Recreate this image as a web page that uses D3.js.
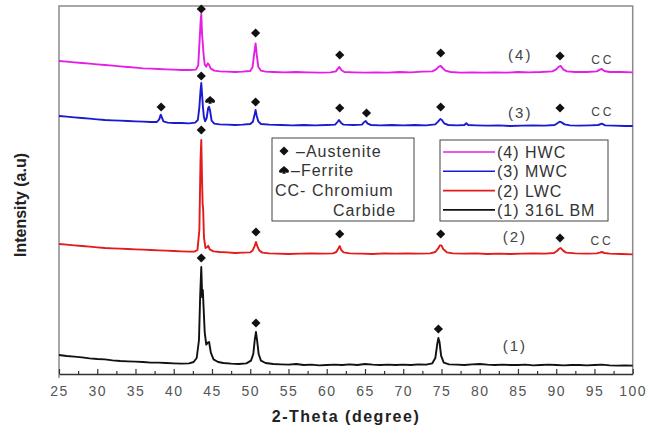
<!DOCTYPE html>
<html lang="en">
<head>
    <meta charset="UTF-8">
    <title>XRD patterns with D3.js</title>
    <script src="https://d3js.org/d3.v7.min.js"></script>
    <style>
        body {
            margin: 0;
            background: #ffffff;
            font-family: 'Liberation Sans', Arial, sans-serif;
        }
        .tick-label {
            font-size: 14px;
            fill: #555;
            letter-spacing: 1.5px;
        }
        .axis-title {
            font-weight: bold;
            fill: #222;
        }
        .note {
            fill: #444;
        }
        .legend-text {
            font-size: 16px;
            fill: #333;
            letter-spacing: 1px;
        }
    </style>
</head>
<body>
    <div id="chart"></div>

    <script>
        // 2-theta / intensity (a.u.) points (already stacked)
        const bm316L = [[25,57],[26,54],[27,52],[28,50],[29,47],[30,45],[31,44],[32,41],[33,39],[34,38],[35,37],[36,36],[37,34],[38,34],[39,33],[40,32],[41,31],[42,32],[42.6,36],[43.0,48],[43.3,102],[43.45,230],[43.6,321],[43.72,230],[43.8,252],[43.9,200],[44.05,125],[44.25,88],[44.45,94],[44.62,96],[44.85,64],[45.2,44],[45.8,36],[46.5,33],[47.5,31],[48.5,30],[49.5,32],[50.1,40],[50.4,60],[50.6,104],[50.75,126],[50.9,100],[51.1,60],[51.4,40],[52,33],[53,30],[54,29],[55,28],[56,30],[57,27],[58,28],[59,26],[60,27],[61,28],[62,27],[63,29],[64,27],[65,30],[66,28],[67,27],[68,28],[69,27],[70,28],[71,27],[72,29],[73,28],[73.8,32],[74.2,48],[74.45,90],[74.6,108],[74.75,95],[74.95,55],[75.3,34],[76,29],[77,28],[78,27],[79,29],[80,30],[81,28],[82,27],[83,28],[84,27],[85,27],[86,28],[87,26],[88,27],[89,28],[90,27],[91,26],[92,27],[93,27],[94,26],[95,27],[96,28],[97,26],[98,25],[99,26],[100,25]];
        const lwc = [[25,390],[26,388],[27,386],[28,384],[29,382],[30,380],[31,378],[32,377],[33,376],[34,375],[35,374],[36,373],[37,372],[38,371],[39,370],[40,369],[41,368],[42,367],[42.7,367],[43.1,372],[43.35,432],[43.5,642],[43.6,702],[43.7,580],[43.78,510],[43.85,492],[43.95,410],[44.15,378],[44.35,380],[44.5,385],[44.7,374],[45.2,368],[46,366],[47,365],[48,363],[49,364],[50,365],[50.3,370],[50.55,382],[50.75,396],[50.95,382],[51.2,370],[51.6,364],[52.5,362],[53.5,361],[55,360],[56.5,361],[58,362],[59.5,361],[60.8,362],[61.25,366],[61.5,376],[61.7,384],[61.9,372],[62.2,365],[63,362],[64.5,361],[66,360],[67.5,362],[69,361],[70.5,362],[72,361],[73.5,362],[74.2,366],[74.55,376],[74.8,386],[75,386],[75.25,374],[75.7,365],[76.5,362],[78,361],[79.5,362],[81,360],[82.5,361],[84,360],[85.5,361],[87,362],[88.5,361],[89.7,363],[90.1,369],[90.4,376],[90.6,378],[90.9,370],[91.3,364],[92.5,362],[94,361],[95.3,362],[95.7,364],[95.95,366],[96.3,363],[97,361],[98.5,360],[100,359]];
        const mwc = [[25,774],[26,772],[27,770],[28,768],[29,766],[30,764],[31,762],[32,761],[33,760],[34,759],[35,758],[36,757],[37,756],[37.8,756],[38.1,764],[38.3,778],[38.45,770],[38.65,758],[39.2,754],[40,753],[41,753],[42,752],[42.8,754],[43.15,762],[43.35,800],[43.5,850],[43.6,873],[43.7,840],[43.82,800],[43.95,770],[44.1,758],[44.3,768],[44.5,798],[44.62,802],[44.75,790],[44.95,760],[45.3,751],[46,749],[47,748],[48,747],[49,748],[50,750],[50.35,757],[50.55,776],[50.7,792],[50.85,774],[51.05,758],[51.4,750],[52.5,748],[54,747],[55.5,746],[57,747],[58.5,746],[60,747],[61.1,748],[61.4,756],[61.6,762],[61.85,754],[62.2,748],[63.5,747],[64.6,748],[64.9,756],[65.1,759],[65.35,751],[65.8,747],[67,746],[68.5,747],[70,746],[71.5,747],[73,746],[74.2,749],[74.55,757],[74.85,765],[75.05,762],[75.35,752],[75.9,747],[77,746],[78,747],[78.25,752],[78.5,747],[79.5,746],[81,745],[82.5,746],[84,744],[85.5,745],[87,746],[88.5,745],[89.8,747],[90.2,753],[90.45,757],[90.7,755],[91.1,749],[91.8,746],[93,745],[94.5,746],[95.5,747],[95.95,751],[96.4,746],[97.5,745],[99,744],[100,744]];
        const hwc = [[25,939],[26,937],[27,935],[28,933],[29,931],[30,929],[31,927],[32,925],[33,923],[34,921],[35,919],[36,917],[37,916],[38,915],[39,914],[40,913],[41,912],[42,912],[42.9,913],[43.2,926],[43.38,1000],[43.52,1060],[43.6,1080],[43.7,1020],[43.8,990],[43.9,960],[44.05,928],[44.25,922],[44.45,932],[44.6,928],[44.85,916],[45.3,910],[46,908],[47,907],[48,906],[49,907],[50,909],[50.3,920],[50.5,958],[50.7,992],[50.85,958],[51.05,922],[51.4,910],[52,907],[53,906],[54.5,905],[56,906],[57.5,905],[59,904],[60.5,905],[61.2,908],[61.45,916],[61.65,921],[61.9,912],[62.3,906],[63.5,905],[65,904],[66.5,905],[68,904],[69.5,906],[71,905],[72.5,907],[73.8,908],[74.3,914],[74.65,922],[74.9,924],[75.15,918],[75.5,910],[76.2,906],[77.5,904],[79,905],[80.5,904],[82,905],[83.5,904],[85,906],[86.5,905],[88,906],[89.5,908],[90,914],[90.35,922],[90.6,924],[90.9,914],[91.4,908],[92.5,906],[94,906],[95.3,908],[95.7,913],[95.95,915],[96.3,909],[97,906],[98.5,906],[100,905]];

        const seriesNames = ['(4) HWC', '(3) MWC', '(2) LWC', '(1) 316L BM'];
        const seriesData = [hwc, mwc, lwc, bm316L];
        const seriesColors = ['#e41ee4', '#1a1ad0', '#e31b1b', '#111111'];

        // phase markers [2-theta, intensity]
        const austenite = [[43.6,1095],[50.7,1023],[61.7,957],[74.9,963],[90.5,954],
            [38.35,801],[43.6,894],[50.7,816],[61.7,798],[65.2,783],[74.9,801],[90.5,798],
            [43.6,732],[50.75,426],[61.7,420],[74.9,420],[90.5,408],
            [43.6,348],[50.75,153],[74.6,135]];
        const ferrite = [[44.75,822]];

        // pattern numbers and chromium carbide notes
        const patternLabels = [['(4)',85.3,957],['(3)',85.3,783],['(2)',84.6,411],['(1)',84.6,84]];
        const ccLabels = [[96.1,942],[96.1,786],[96.0,399]];

        const majorTicks = d3.range(25, 101, 5);
        const minorTicks = d3.range(27.5, 100, 5);

        const width = 660;
        const height = 425;

        const x = d3.scaleLinear().domain([25, 100]).range([59, 632.7]);
        const y = d3.scaleLinear().domain([0, 1104]).range([374, 6]);

        const svg = d3.select('#chart')
            .append('svg')
            .attr('width', width)
            .attr('height', height);

        // frame (left, top, right)
        svg.append('path')
            .attr('d', `M${x(25)},378 V${y(1104)} H${x(100)} V${y(0)}`)
            .attr('fill', 'none')
            .attr('stroke', '#8a8a8a')
            .attr('stroke-width', 1.5);

        // bottom axis with inward ticks
        const xAxis = svg.append('g')
            .attr('transform', `translate(0,${y(0)})`)
            .call(d3.axisBottom(x).tickValues(majorTicks).tickSizeInner(-5).tickSizeOuter(0).tickPadding(12));
        xAxis.select('.domain').attr('stroke', '#333').attr('stroke-width', 1.5);
        xAxis.selectAll('.tick line').attr('stroke', '#333').attr('stroke-width', 1.2);
        xAxis.selectAll('.tick text')
            .attr('class', 'tick-label')
            .style('font-family', "'Liberation Sans', Arial, sans-serif");

        const xMinor = svg.append('g')
            .attr('transform', `translate(0,${y(0)})`)
            .call(d3.axisBottom(x).tickValues(minorTicks).tickSize(-3).tickFormat(''));
        xMinor.select('.domain').remove();
        xMinor.selectAll('.tick line').attr('stroke', '#333').attr('stroke-width', 1.2);

        // patterns
        const line = d3.line()
            .x(d => x(d[0]))
            .y(d => y(d[1]));

        svg.selectAll('.pattern')
            .data(seriesData)
            .enter()
            .append('path')
            .attr('class', 'pattern')
            .attr('d', line)
            .attr('fill', 'none')
            .attr('stroke', (d, i) => seriesColors[i])
            .attr('stroke-width', 1.9)
            .attr('stroke-linejoin', 'round');

        // markers
        const diamond = d3.symbol().type(d3.symbolSquare).size(42);
        svg.selectAll('.aus')
            .data(austenite)
            .enter()
            .append('path')
            .attr('class', 'aus')
            .attr('d', diamond)
            .attr('transform', d => `translate(${x(d[0])},${y(d[1])}) rotate(45)`)
            .attr('fill', '#111');

        // ferrite: small spade shape
        const ferritePath = 'M0,-4 C2,-2 5,-0.5 5,1.5 C5,3 2.5,3 1,2.2 L1.8,3.8 H-1.8 L-1,2.2 C-2.5,3 -5,3 -5,1.5 C-5,-0.5 -2,-2 0,-4 Z';
        svg.selectAll('.fer')
            .data(ferrite)
            .enter()
            .append('path')
            .attr('class', 'fer')
            .attr('d', ferritePath)
            .attr('transform', d => `translate(${x(d[0])},${y(d[1])})`)
            .attr('fill', '#111');

        svg.selectAll('.plabel')
            .data(patternLabels)
            .enter()
            .append('text')
            .attr('class', 'note')
            .attr('x', d => x(d[1]))
            .attr('y', d => y(d[2]))
            .attr('dy', '0.35em')
            .attr('text-anchor', 'middle')
            .style('font-size', '15px')
            .style('letter-spacing', '2px')
            .text(d => d[0]);

        svg.selectAll('.cc')
            .data(ccLabels)
            .enter()
            .append('text')
            .attr('class', 'note')
            .attr('x', d => x(d[0]))
            .attr('y', d => y(d[1]))
            .attr('dy', '0.35em')
            .attr('text-anchor', 'middle')
            .style('font-size', '12px')
            .style('letter-spacing', '3px')
            .text('CC');

        // phase legend
        const phaseBox = svg.append('g');
        phaseBox.append('rect')
            .attr('x', 272).attr('y', 138).attr('width', 142).attr('height', 83)
            .attr('fill', '#fff').attr('stroke', '#444').attr('stroke-width', 1);
        phaseBox.append('path')
            .attr('d', diamond)
            .attr('transform', 'translate(284,151) rotate(45)')
            .attr('fill', '#111');
        phaseBox.append('path')
            .attr('d', ferritePath)
            .attr('transform', 'translate(284,170)')
            .attr('fill', '#111');
        phaseBox.append('text').attr('class', 'legend-text').attr('x', 296).attr('y', 157).text('\u2013Austenite');
        phaseBox.append('text').attr('class', 'legend-text').attr('x', 291).attr('y', 176).text('\u2013Ferrite');
        phaseBox.append('text').attr('class', 'legend-text').attr('x', 275).attr('y', 196).text('CC- Chromium');
        phaseBox.append('text').attr('class', 'legend-text').attr('x', 333).attr('y', 216).text('Carbide');

        // series legend
        const serBox = svg.append('g');
        serBox.append('rect')
            .attr('x', 440).attr('y', 140).attr('width', 168).attr('height', 81)
            .attr('fill', '#fff').attr('stroke', '#444').attr('stroke-width', 1);
        const items = serBox.selectAll('.item')
            .data(seriesNames)
            .enter()
            .append('g')
            .attr('transform', (d, i) => `translate(443,${152 + i * 19.3})`);
        items.append('line')
            .attr('x1', 0).attr('x2', 52)
            .attr('stroke', (d, i) => seriesColors[i])
            .attr('stroke-width', 1.6);
        items.append('text')
            .attr('class', 'legend-text')
            .attr('x', 54)
            .attr('y', 6)
            .text(d => d);

        // axis titles
        svg.append('text')
            .attr('class', 'axis-title')
            .attr('x', 346)
            .attr('y', 422)
            .attr('text-anchor', 'middle')
            .style('font-size', '16px')
            .style('letter-spacing', '1.5px')
            .text('2-Theta (degree)');

        svg.append('text')
            .attr('class', 'axis-title')
            .attr('transform', 'translate(26,205) rotate(-90)')
            .attr('text-anchor', 'middle')
            .style('font-size', '16px')
            .text('Intensity (a.u)');
    </script>
</body>
</html>
